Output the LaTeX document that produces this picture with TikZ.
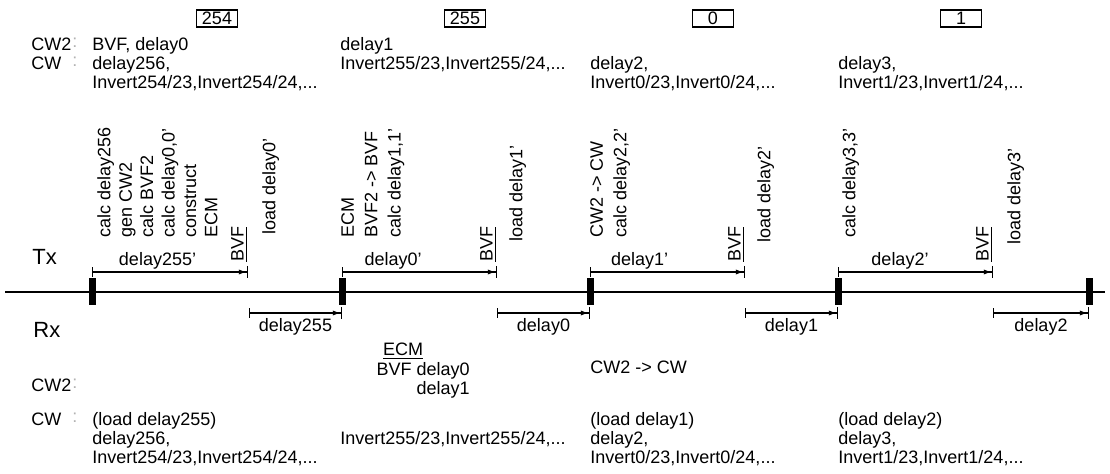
\documentclass[tikz,border=0pt]{standalone}
\usepackage{fontspec}
\setmainfont{Liberation Sans}
\usetikzlibrary{arrows.meta, positioning}

\begin{document}
\begin{tikzpicture}[
    x=0.5pt, y=-0.5pt,
    every node/.style={font=\fontsize{9}{9.5}\selectfont, inner sep=0pt},
    txt/.style={anchor=north west, align=left},
    colon/.style={anchor=north west, text=gray!60},
    vert/.style={rotate=90, anchor=north west, align=left},
    bvf/.style={rotate=90, anchor=south west},
    slot/.style={draw, line width=0.6pt, minimum width=20.5pt, minimum height=8.5pt},
    tick/.style={fill=black, minimum width=3.5pt, minimum height=13.5pt},
    axis/.style={line width=1.4pt},
    dly/.style={line width=0.6pt, {Bar[width=5pt]}-{Latex[length=4pt,width=2.6pt]Bar[width=6pt]}},
    side/.style={font=\fontsize{11}{12}\selectfont, anchor=west}
]
    \useasboundingbox (0,0) rectangle (1110,474);

    % Frame numbers
    \node [slot] (s254) at (217,18.5) {254};
    \node [slot] (s255) at (465,18.5) {255};
    \node [slot] (s0) at (713,18.5) {0};
    \node [slot] (s1) at (961,18.5) {1};

    % Tx buffers
    \node [txt] (cw2t) at (31,37.5) {CW2};
    \node [colon] at (72,37.5) {:};
    \node [txt] (cw2t0) at (92,37.5) {BVF, delay0};
    \node [txt] (cwt) at (31,56.5) {CW};
    \node [colon] at (72,56.5) {:};
    \node [txt] (cwt0) at (92,56.5) {delay256,\\Invert254/23,Invert254/24,...};
    \node [txt] (cw2t1) at (340,37.5) {delay1};
    \node [txt] (cwt1) at (340,56.5) {Invert255/23,Invert255/24,...};
    \node [txt] (cwt2) at (590,56.5) {delay2,\\Invert0/23,Invert0/24,...};
    \node [txt] (cwt3) at (838,56.5) {delay3,\\Invert1/23,Invert1/24,...};

    % Tx actions
    \node [vert, font=\fontsize{9}{10.7}\selectfont] (act0) at (97,238)
        {calc delay256\\gen CW2\\calc BVF2\\calc delay0,0'\\construct\\ECM};
    \node [vert] (load0) at (262,235) {load delay0'};
    \node [vert, font=\fontsize{9}{11.65}\selectfont] (act1) at (341,238)
        {ECM\\BVF2 -> BVF\\calc delay1,1'};
    \node [vert] (load1) at (509,242) {load delay1'};
    \node [vert, font=\fontsize{9}{11.65}\selectfont] (act2) at (590,238)
        {CW2 -> CW\\calc delay2,2'};
    \node [vert] (load2) at (757,243) {load delay2'};
    \node [vert] (act3) at (842,238) {calc delay3,3'};
    \node [vert] (load3) at (1007,245) {load delay3'};

    % Time line
    \coordinate (lineL) at (5,292);
    \coordinate (lineR) at (1105,292);
    \draw [axis] (lineL) -- (lineR);
    \node [tick] (t0) at (92,292) {};
    \node [tick] (t1) at (342,292) {};
    \node [tick] (t2) at (590,292) {};
    \node [tick] (t3) at (838,292) {};
    \node [tick] (t4) at (1089,292) {};

    \node [side] (tx) at (32,257) {Tx};
    \node [side] (rx) at (33,330) {Rx};

    % Tx delays
    \coordinate (tx0) at (248,272);
    \coordinate (tx1) at (497,272);
    \coordinate (tx2) at (745,272);
    \coordinate (tx3) at (993,272);
    \draw [dly] (t0 |- tx0) -- node [above, pos=0.42, inner sep=1pt] {delay255'} (tx0);
    \draw [dly] (t1 |- tx1) -- node [above, pos=0.33, inner sep=1pt] {delay0'} (tx1);
    \draw [dly] (t2 |- tx2) -- node [above, pos=0.32, inner sep=1pt] {delay1'} (tx2);
    \draw [dly] (t3 |- tx3) -- node [above, pos=0.40, inner sep=1pt] {delay2'} (tx3);
    \node [bvf] (bvf0) at (248,262) {\underline{BVF}};
    \node [bvf] (bvf1) at (497,262) {\underline{BVF}};
    \node [bvf] (bvf2) at (745,262) {\underline{BVF}};
    \node [bvf] (bvf3) at (993,262) {\underline{BVF}};

    % Rx delays
    \coordinate (rx0) at (249,313);
    \coordinate (rx1) at (497,313);
    \coordinate (rx2) at (745,313);
    \coordinate (rx3) at (993,313);
    \draw [dly] (rx0) -- node [below, inner sep=2.5pt] {delay255} (t1 |- rx0);
    \draw [dly] (rx1) -- node [below, inner sep=2.5pt] {delay0} (t2 |- rx1);
    \draw [dly] (rx2) -- node [below, inner sep=2.5pt] {delay1} (t3 |- rx2);
    \draw [dly] (rx3) -- node [below, inner sep=2.5pt] {delay2} (t4 |- rx3);

    % Rx buffers
    \node [anchor=north] (ecm) at (403,342.5) {\underline{ECM}};
    \node [anchor=north east, align=right] (bvfr) at (470,362.5) {BVF delay0\\delay1};
    \node [txt] (cw2r) at (31,378.5) {CW2};
    \node [colon] at (72,378.5) {:};
    \node [txt] (cw2r2) at (590,360.5) {CW2 -> CW};
    \node [txt] (cwr) at (31,412.5) {CW};
    \node [colon] at (72,412.5) {:};
    \node [txt] (cwr0) at (92,412.5) {(load delay255)\\delay256,\\Invert254/23,Invert254/24,...};
    \node [txt] (cwr1) at (340,431.5) {Invert255/23,Invert255/24,...};
    \node [txt] (cwr2) at (590,412.5) {(load delay1)\\delay2,\\Invert0/23,Invert0/24,...};
    \node [txt] (cwr3) at (838,412.5) {(load delay2)\\delay3,\\Invert1/23,Invert1/24,...};

\end{tikzpicture}
\end{document}
